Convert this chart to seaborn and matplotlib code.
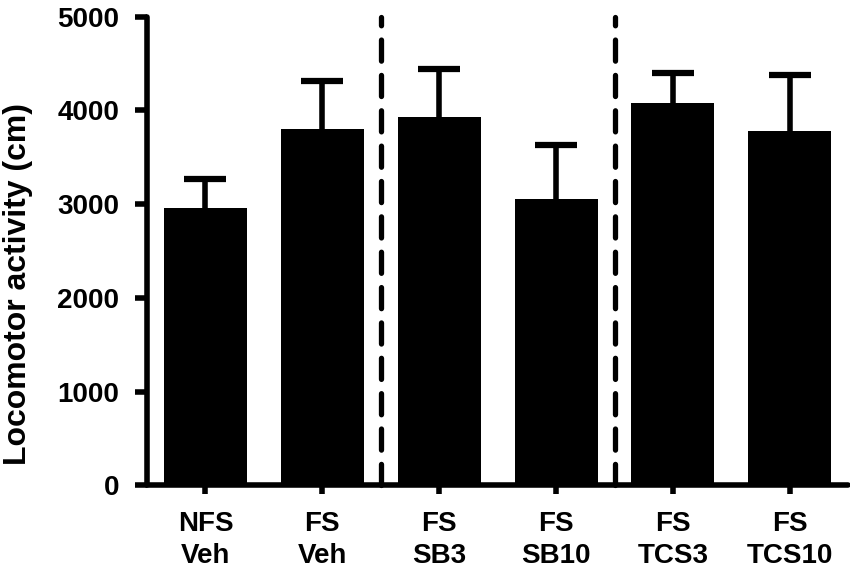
import numpy as np
import pandas as pd
import matplotlib
matplotlib.use("Agg")
import matplotlib.pyplot as plt
import seaborn as sns

groups = ["NFS\nVeh", "FS\nVeh", "FS\nSB3", "FS\nSB10", "FS\nTCS3", "FS\nTCS10"]
means = [2960, 3800, 3930, 3060, 4075, 3785]
sems = [310, 510, 515, 575, 325, 595]
divider_positions = [1.5, 3.5]

sns.set_style("ticks", {"axes.edgecolor": "black", "text.color": "black",
                        "xtick.color": "black", "ytick.color": "black",
                        "axes.labelcolor": "black"})
plt.rcParams['font.family'] = ['Liberation Sans', 'DejaVu Sans']
plt.rcParams['font.weight'] = 'bold'

df = pd.DataFrame({"group": groups, "mean": means, "sem": sems})

fig = plt.figure(figsize=(8.5, 5.79), dpi=100)
ax = fig.add_axes([0.173, 0.162, 0.825, 0.809])

sns.barplot(data=df, x="group", y="mean", color="black", saturation=1,
            width=0.71, errorbar=None, ax=ax, zorder=3, linewidth=0)
eb = ax.errorbar(np.arange(len(groups)), df["mean"],
                 yerr=[np.zeros(len(groups)), df["sem"]],
                 fmt="none", ecolor="black", elinewidth=4, capsize=15, capthick=4.5,
                 zorder=2)
# hide the lower caps (sitting at bar tops)
for cl in eb[1]:
    yd = np.asarray(cl.get_ydata(), dtype=float)
    if np.allclose(yd, np.asarray(means, dtype=float)):
        cl.set_visible(False)

for xp in divider_positions:
    ax.axvline(xp, color="black", lw=3.8, ls=(0, (4.0, 2.7)),
               dash_capstyle="round", zorder=1, clip_on=False)

ax.set_xlim(-0.5, 5.5)
ax.set_ylim(0, 5000)
ax.set_yticks([0, 1000, 2000, 3000, 4000, 5000])
ax.set_xlabel("")
ax.set_ylabel("Locomotor activity (cm)", fontsize=23, fontweight="bold")
ax.yaxis.set_label_coords(-0.163, 0.43)
sns.despine(ax=ax)
for s in ["left", "bottom"]:
    ax.spines[s].set_linewidth(4)
    ax.spines[s].set_capstyle("round")
ax.tick_params(axis="both", width=4, color="black")
ax.tick_params(axis="y", length=9, pad=11, labelsize=20)
ax.tick_params(axis="x", length=6.5, pad=12, labelsize=20)
for lab in ax.get_xticklabels() + ax.get_yticklabels():
    lab.set_fontweight("bold")
for lab in ax.get_xticklabels():
    lab.set_linespacing(1.32)

fig.savefig("out.png", dpi=100)
